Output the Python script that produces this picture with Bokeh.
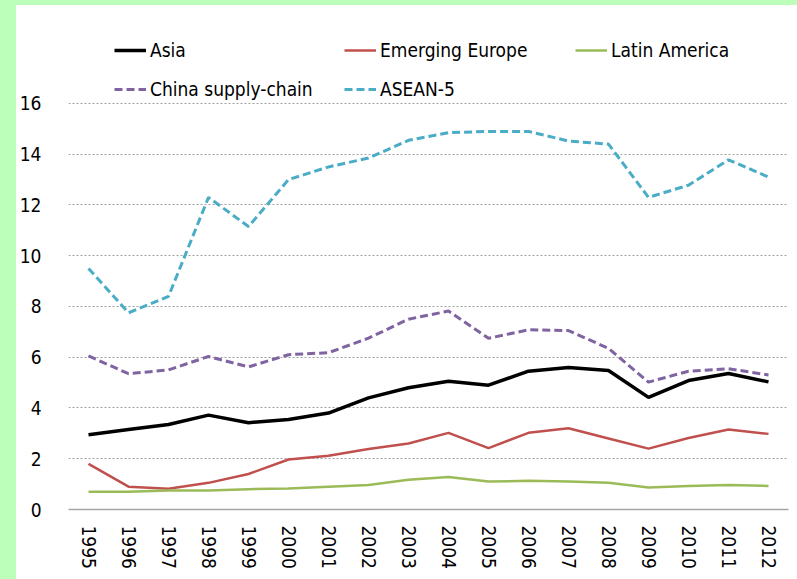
from bokeh.plotting import figure
from bokeh.models import Legend, LegendItem, FixedTicker, Range1d, Spacer
from bokeh.layouts import row, column
from bokeh.embed import file_html
from bokeh.resources import INLINE

years = ["1995", "1996", "1997", "1998", "1999", "2000", "2001", "2002", "2003",
         "2004", "2005", "2006", "2007", "2008", "2009", "2010", "2011", "2012"]
asia = [2.95, 3.15, 3.35, 3.72, 3.42, 3.55, 3.8, 4.4, 4.8, 5.05, 4.9, 5.45, 5.6, 5.48, 4.42, 5.08, 5.36, 5.03]
emerging_europe = [1.8, 0.9, 0.82, 1.05, 1.4, 1.97, 2.12, 2.38, 2.6, 3.02, 2.42, 3.02, 3.2, 2.8, 2.4, 2.82, 3.15, 2.98]
latin_america = [0.7, 0.7, 0.75, 0.75, 0.8, 0.83, 0.9, 0.97, 1.17, 1.28, 1.1, 1.13, 1.1, 1.05, 0.87, 0.93, 0.97, 0.93]
china_supply = [6.05, 5.35, 5.5, 6.03, 5.62, 6.1, 6.18, 6.75, 7.5, 7.82, 6.75, 7.08, 7.05, 6.35, 5.02, 5.45, 5.55, 5.3]
asean5 = [9.5, 7.75, 8.4, 12.3, 11.15, 13.0, 13.5, 13.85, 14.55, 14.85, 14.9, 14.9, 14.52, 14.4, 12.3, 12.78, 13.78, 13.1]
y_ticks = [0, 2, 4, 6, 8, 10, 12, 14, 16]

FONT = "DejaVu Sans Condensed, Liberation Sans Narrow, sans-serif"

p = figure(x_range=years, frame_width=720, frame_height=489, output_backend="svg",
           toolbar_location=None, min_border_left=51, min_border_right=10,
           min_border_top=15, min_border_bottom=70)
p.y_range = Range1d(0, 19.27)
p.x_range.range_padding = 0
p.x_range.factor_padding = 0
p.outline_line_color = None
p.background_fill_color = "white"
p.border_fill_color = "white"

r_asia = p.line(years, asia, line_color="black", line_width=3.5)
r_eu = p.line(years, emerging_europe, line_color="#C0504D", line_width=2.5)
r_la = p.line(years, latin_america, line_color="#9BBB59", line_width=2.5)
r_cn = p.line(years, china_supply, line_color="#8064A2", line_width=3, line_dash="8 4")
r_as = p.line(years, asean5, line_color="#4BACC6", line_width=3, line_dash="8 4")

p.yaxis.ticker = FixedTicker(ticks=y_ticks)
p.ygrid.ticker = FixedTicker(ticks=y_ticks)
p.ygrid.grid_line_color = "#A0A0A0"
p.ygrid.grid_line_dash = "2 2"
p.ygrid.grid_line_width = 1
p.xgrid.grid_line_color = None

p.yaxis.axis_line_color = None
p.yaxis.major_tick_line_color = None
p.yaxis.minor_tick_line_color = None
p.yaxis.major_tick_out = 0
p.yaxis.major_tick_in = 0
p.yaxis.minor_tick_out = 0
p.yaxis.major_label_standoff = 27
p.yaxis.major_label_text_font = FONT
p.yaxis.major_label_text_font_size = "19px"
p.yaxis.major_label_text_color = "black"

p.xaxis.axis_line_color = "#A6A6A6"
p.xaxis.axis_line_width = 1.5
p.xaxis.major_tick_line_color = None
p.xaxis.minor_tick_line_color = None
p.xaxis.major_tick_out = 0
p.xaxis.major_tick_in = 0
p.xaxis.minor_tick_out = 0
p.xaxis.major_label_orientation = "vertical"
p.xaxis.major_label_standoff = 16
p.xaxis.major_label_text_font = FONT
p.xaxis.major_label_text_font_size = "19px"
p.xaxis.major_label_text_color = "black"

entries = [("Asia", r_asia, 46, 448), ("Emerging Europe", r_eu, 276, 448),
           ("Latin America", r_la, 507, 448), ("China supply-chain", r_cn, 46, 409),
           ("ASEAN-5", r_as, 276, 409)]
for label, rend, lx, ly in entries:
    lg = Legend(items=[LegendItem(label=label, renderers=[rend])], location=(lx, ly),
                glyph_width=32, glyph_height=20, label_standoff=4, padding=0, margin=0,
                spacing=0, border_line_color=None, background_fill_alpha=0,
                label_text_font=FONT, label_text_font_size="19px", label_text_color="black")
    p.add_layout(lg, "center")

layout = column(Spacer(height=5), row(Spacer(width=16), p))
html = file_html(layout, INLINE)
css = ("<style>html, body { background-color: #FFFFFF !important; "
       "background-image: linear-gradient(to right, #BBFFBB 16px, rgba(255,255,255,0) 16px), "
       "linear-gradient(to bottom, #BBFFBB 5px, rgba(255,255,255,0) 5px) !important; "
       "background-repeat: no-repeat !important; background-size: 100% 100% !important; }</style></head>")
html = html.replace("</head>", css, 1)
open("out.html", "w").write(html)
